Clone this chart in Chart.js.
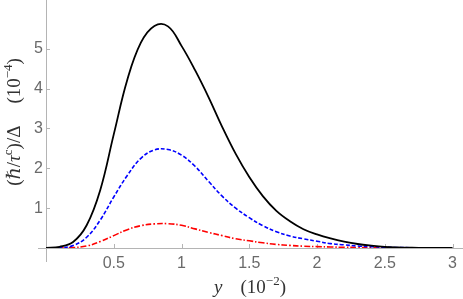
<!DOCTYPE html>
<html>
<head>
<meta charset="utf-8">
<script src="https://cdn.jsdelivr.net/npm/chart.js@4.4.1/dist/chart.umd.min.js"></script>
<style>
  html, body { margin: 0; padding: 0; background: #fff; }
  #wrap { width: 463px; height: 299px; }
</style>
</head>
<body>
<div id="wrap"><canvas id="c" width="463" height="299"></canvas></div>
<script>
// x values, in units of 10^-2
const yGrid = [0, 0.1, 0.2, 0.3, 0.4, 0.5, 0.6, 0.7, 0.8, 0.9, 1.0, 1.1, 1.2, 1.3, 1.4, 1.5,
  1.6, 1.7, 1.8, 1.9, 2.0, 2.1, 2.2, 2.3, 2.4, 2.5, 2.6, 2.7, 2.8, 2.9, 3.0];

// (hbar/tau^c)/Delta, in units of 10^-4
const solidBlack = [0, 0.03, 0.15, 0.57, 1.45, 2.85, 4.22, 5.15, 5.57, 5.56, 5.07, 4.46, 3.78,
  3.04, 2.36, 1.78, 1.3, 0.93, 0.67, 0.47, 0.34, 0.24, 0.16, 0.1, 0.06, 0.03, 0.015, 0.008, 0.004, 0.002, 0];
const dashedBlue = [0, 0.005, 0.06, 0.27, 0.7, 1.28, 1.82, 2.25, 2.46, 2.47, 2.33, 2.05, 1.67,
  1.3, 1.0, 0.76, 0.56, 0.41, 0.3, 0.23, 0.17, 0.11, 0.08, 0.05, 0.035, 0.02, 0.012, 0.007, 0.004, 0.002, 0];
const dotDashRed = [0, 0.002, 0.01, 0.05, 0.16, 0.31, 0.46, 0.56, 0.605, 0.61, 0.57, 0.48, 0.39,
  0.31, 0.23, 0.18, 0.13, 0.09, 0.065, 0.045, 0.035, 0.025, 0.018, 0.012, 0.008, 0.005, 0.003, 0.002, 0.001, 0.001, 0];

const xTicks = [0.5, 1, 1.5, 2, 2.5, 3];
const yTicks = [1, 2, 3, 4, 5];

const AXIS = '#b4b4b4';
const TICKTXT = '#6a6a6a';
const SERIF = '"Liberation Serif", "DejaVu Serif", serif';

function pts(vals) {
  return yGrid.map(function (x, i) {
    return { x: x, y: vals[i] };
  });
}

function drawRich(ctx, parts, x, y, align) {
  // parts: [text, size, italic, raise]
  let w = 0;
  parts.forEach(function (p) {
    if (p.gap) { w += p.gap; return; }
    ctx.font = (p[2] ? 'italic ' : '') + p[1] + 'px ' + SERIF;
    w += ctx.measureText(p[0]).width;
  });
  let cx = align === 'center' ? x - w / 2 : x;
  parts.forEach(function (p) {
    if (p.gap) { cx += p.gap; return; }
    ctx.font = (p[2] ? 'italic ' : '') + p[1] + 'px ' + SERIF;
    ctx.fillText(p[0], cx, y - (p[3] || 0));
    cx += ctx.measureText(p[0]).width;
  });
}

const axesPlugin = {
  id: 'mmaAxes',
  beforeDatasetsDraw(chart) {
    const ctx = chart.ctx;
    const xs = chart.scales.x;
    const ys = chart.scales.y;
    const x0 = xs.getPixelForValue(0);
    const y0 = ys.getPixelForValue(0);
    ctx.save();
    ctx.strokeStyle = AXIS;
    ctx.lineWidth = 1;
    ctx.beginPath();
    ctx.moveTo(38, Math.round(y0) + 0.5);
    ctx.lineTo(463, Math.round(y0) + 0.5);
    ctx.moveTo(Math.round(x0) + 0.5, 0);
    ctx.lineTo(Math.round(x0) + 0.5, 262);
    xTicks.forEach(function (v) {
      const px = Math.round(xs.getPixelForValue(v)) + 0.5;
      ctx.moveTo(px, y0);
      ctx.lineTo(px, y0 - 4);
    });
    yTicks.forEach(function (v) {
      const py = Math.round(ys.getPixelForValue(v)) + 0.5;
      ctx.moveTo(x0, py);
      ctx.lineTo(x0 + 4, py);
    });
    ctx.stroke();
    ctx.restore();
  },
  afterDraw(chart) {
    const ctx = chart.ctx;
    ctx.save();
    ctx.fillStyle = '#333';
    ctx.textBaseline = 'alphabetic';
    // x title
    drawRich(ctx, [
      ['y', 19, true], { gap: 18 }, ['(10', 19, false], ['\u22122', 13, false, 8], [')', 19, false]
    ], 250, 293, 'center');
    // y title
    ctx.translate(20, 122);
    ctx.rotate(-Math.PI / 2);
    drawRich(ctx, [
      ['(', 19, false], ['\u210F', 19, true], ['/', 19, false], ['\u03C4', 19, true], ['c', 13, false, 8],
      [')', 19, false], ['/', 19, false], ['\u0394', 19, false], { gap: 22 },
      ['(10', 19, false], ['\u22124', 13, false, 8], [')', 19, false]
    ], 0, 0, 'center');
    ctx.restore();
  }
};

function plainTick(v) {
  return String(v);
}

new Chart(document.getElementById('c'), {
  type: 'line',
  data: {
    datasets: [
      {
        data: pts(solidBlack),
        borderColor: '#000000',
        borderWidth: 1.8,
        pointRadius: 0,
        tension: 0.4,
        fill: false
      },
      {
        data: pts(dashedBlue),
        borderColor: '#0000ff',
        borderWidth: 1.6,
        borderDash: [4, 2],
        pointRadius: 0,
        tension: 0.4,
        fill: false
      },
      {
        data: pts(dotDashRed),
        borderColor: '#ff0000',
        borderWidth: 1.6,
        borderDash: [6, 2, 1.5, 2],
        pointRadius: 0,
        tension: 0.4,
        fill: false
      }
    ]
  },
  options: {
    responsive: false,
    animation: false,
    devicePixelRatio: 1,
    layout: { padding: 0 },
    plugins: { legend: { display: false }, tooltip: { enabled: false } },
    scales: {
      x: {
        type: 'linear',
        min: 0,
        max: 3.074,
        afterBuildTicks: function (s) {
          s.ticks = xTicks.map(function (v) { return { value: v }; });
        },
        afterFit: function (s) { s.height = 51; },
        grid: { display: false, drawTicks: false },
        border: { display: false },
        ticks: {
          padding: 6,
          color: TICKTXT,
          font: { family: '"Liberation Sans", Arial, sans-serif', size: 16 },
          maxRotation: 0,
          callback: plainTick
        }
      },
      y: {
        type: 'linear',
        min: 0,
        max: 5.905,
        afterBuildTicks: function (s) {
          s.ticks = yTicks.map(function (v) { return { value: v }; });
        },
        afterFit: function (s) { s.width = 46; },
        grid: { display: false, drawTicks: false },
        border: { display: false },
        ticks: {
          padding: 3,
          color: TICKTXT,
          font: { family: '"Liberation Sans", Arial, sans-serif', size: 16 },
          callback: plainTick
        }
      }
    }
  },
  plugins: [axesPlugin]
});
</script>
</body>
</html>
